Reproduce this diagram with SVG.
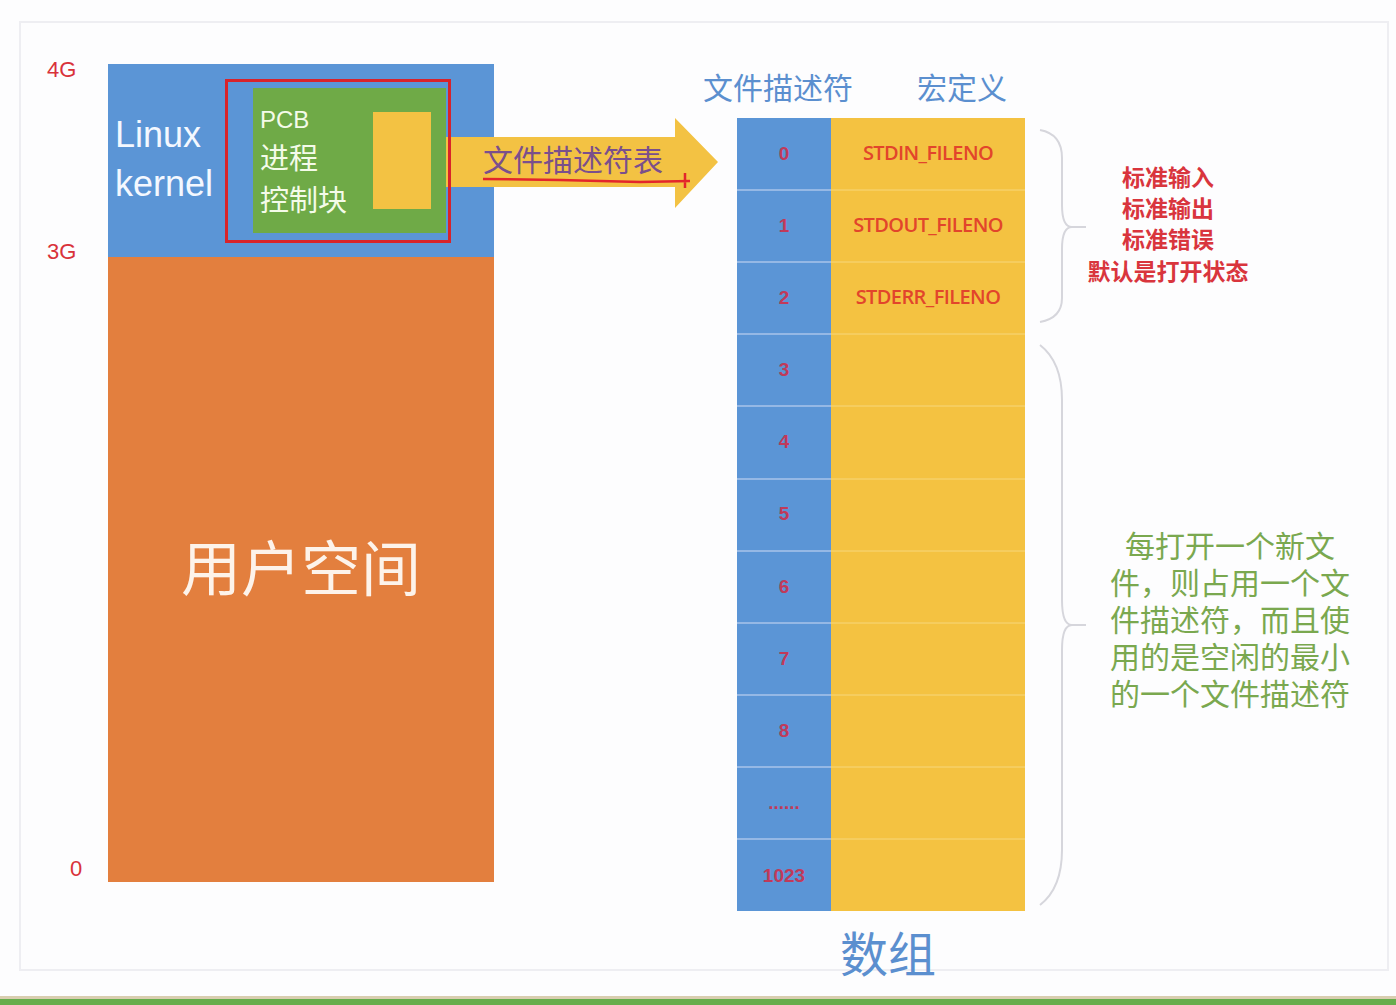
<svg xmlns="http://www.w3.org/2000/svg" width="1396" height="1005" viewBox="0 0 1396 1005">
<style>
.cjk{font-family:"Liberation Sans","Noto Sans CJK SC",sans-serif}
.idx{font-family:"Liberation Sans","Noto Sans CJK SC",sans-serif;font-size:19px;font-weight:bold;fill:#c03a5a;text-anchor:middle}
.mac{font-family:"Open Sans","Liberation Sans",sans-serif;font-size:20px;font-weight:600;fill:#e2452b;text-anchor:middle;letter-spacing:-0.6px}
.sep{stroke:#a9c4ea;stroke-width:1.5}
.sepy{stroke:#f7d77d;stroke-width:1}
.brace{fill:none;stroke:#d6d6dc;stroke-width:2}
.red{fill:#d9353d;text-anchor:middle;font-size:23px;font-weight:bold}
.grn{fill:#7aa84f;text-anchor:middle;font-size:30px}
</style>
<rect width="1396" height="1005" fill="#fdfdfe"/>
<rect x="20" y="22" width="1368" height="948" fill="none" stroke="#eeeef2" stroke-width="2"/>
<rect x="0" y="996" width="1396" height="3" fill="#d9ceb0"/>
<rect x="0" y="999" width="1396" height="6" fill="#67ad4c"/>

<g id="axis-labels" class="cjk" fill="#d9323a" font-size="22">
<text x="47" y="77">4G</text>
<text x="47" y="259">3G</text>
<text x="70" y="876">0</text>
</g>

<g id="kernel">
<rect x="108" y="64" width="386" height="193" fill="#5b95d6"/>
<text x="115" y="147" class="cjk" font-size="36" fill="#f4f8ff">Linux</text>
<text x="115" y="196" class="cjk" font-size="36" fill="#f4f8ff">kernel</text>
</g>

<g id="user-space">
<rect x="108" y="257" width="386" height="625" fill="#e37f3e"/>
<text x="301" y="591" class="cjk" font-size="60" fill="#fdf3ea" text-anchor="middle">用户空间</text>
</g>

<g id="connectors">
<path d="M431,137 L675,137 L675,118 L718,162 L675,208 L675,187 L431,187 Z" fill="#f3c243"/>
</g>

<g id="pcb">
<rect x="253" y="88" width="193" height="145" fill="#6faa47"/>
<rect x="373" y="112" width="58" height="97" fill="#f3c243"/>
<text x="260" y="128" class="cjk" font-size="24" fill="#f4fbe9">PCB</text>
<text x="260" y="169" class="cjk" font-size="29" fill="#f4fbe9">进程</text>
<text x="260" y="211" class="cjk" font-size="29" fill="#f4fbe9">控制块</text>
<rect x="226.5" y="80.5" width="223" height="161" fill="none" stroke="#d8232a" stroke-width="3"/>
</g>

<g id="fd-table-label">
<text x="483" y="171" class="cjk" font-size="30" fill="#7a4f8c">文件描述符表</text>
<path d="M483,179 L560,180 L600,181 L640,182 L690,181 M685,173 L685,188" fill="none" stroke="#e3262b" stroke-width="2.5"/>
</g>

<g id="headers" class="cjk" font-size="30" fill="#5b8fcf" text-anchor="middle">
<text x="778" y="99">文件描述符</text>
<text x="962" y="99">宏定义</text>
</g>

<g id="fd-table">
<rect x="737" y="118" width="94" height="793" fill="#5b95d6"/>
<rect x="831" y="118" width="194" height="793" fill="#f4c241"/>
<line class="sep" x1="737" y1="190" x2="831" y2="190"/>
<line class="sep" x1="737" y1="262" x2="831" y2="262"/>
<line class="sep" x1="737" y1="334" x2="831" y2="334"/>
<line class="sep" x1="737" y1="406" x2="831" y2="406"/>
<line class="sep" x1="737" y1="479" x2="831" y2="479"/>
<line class="sep" x1="737" y1="551" x2="831" y2="551"/>
<line class="sep" x1="737" y1="623" x2="831" y2="623"/>
<line class="sep" x1="737" y1="695" x2="831" y2="695"/>
<line class="sep" x1="737" y1="767" x2="831" y2="767"/>
<line class="sep" x1="737" y1="839" x2="831" y2="839"/>
<line class="sepy" x1="831" y1="190" x2="1025" y2="190"/>
<line class="sepy" x1="831" y1="262" x2="1025" y2="262"/>
<line class="sepy" x1="831" y1="334" x2="1025" y2="334"/>
<line class="sepy" x1="831" y1="406" x2="1025" y2="406"/>
<line class="sepy" x1="831" y1="479" x2="1025" y2="479"/>
<line class="sepy" x1="831" y1="551" x2="1025" y2="551"/>
<line class="sepy" x1="831" y1="623" x2="1025" y2="623"/>
<line class="sepy" x1="831" y1="695" x2="1025" y2="695"/>
<line class="sepy" x1="831" y1="767" x2="1025" y2="767"/>
<line class="sepy" x1="831" y1="839" x2="1025" y2="839"/>
<text class="idx" x="784" y="160">0</text>
<text class="idx" x="784" y="232">1</text>
<text class="idx" x="784" y="304">2</text>
<text class="idx" x="784" y="376">3</text>
<text class="idx" x="784" y="448">4</text>
<text class="idx" x="784" y="520">5</text>
<text class="idx" x="784" y="593">6</text>
<text class="idx" x="784" y="665">7</text>
<text class="idx" x="784" y="737">8</text>
<text class="idx" x="784" y="809" font-size="14">......</text>
<text class="idx" x="784" y="882">1023</text>
<text class="mac" x="928" y="160">STDIN_FILENO</text>
<text class="mac" x="928" y="232">STDOUT_FILENO</text>
<text class="mac" x="928" y="304">STDERR_FILENO</text>
</g>

<g id="brace-std">
<path class="brace" d="M1040,130 Q1062,134 1062,158 L1062,205 Q1062,227 1072,227 L1086,227 M1072,227 Q1062,227 1062,249 L1062,298 Q1062,318 1040,322"/>
</g>
<g id="note-std" class="cjk red">
<text x="1168" y="186">标准输入</text>
<text x="1168" y="217">标准输出</text>
<text x="1168" y="248">标准错误</text>
<text x="1168" y="280">默认是打开状态</text>
</g>

<g id="brace-free">
<path class="brace" d="M1040,345 Q1062,362 1062,400 L1062,600 Q1062,625 1072,625 L1086,625 M1072,625 Q1062,625 1062,650 L1062,850 Q1062,888 1040,905"/>
</g>
<g id="note-free" class="cjk grn">
<text x="1230" y="557">每打开一个新文</text>
<text x="1230" y="594">件，则占用一个文</text>
<text x="1230" y="631">件描述符，而且使</text>
<text x="1230" y="668">用的是空闲的最小</text>
<text x="1230" y="705">的一个文件描述符</text>
</g>

<g id="array-label">
<text x="888" y="972" class="cjk" font-size="48" fill="#5b8fcf" text-anchor="middle">数组</text>
</g>
</svg>
